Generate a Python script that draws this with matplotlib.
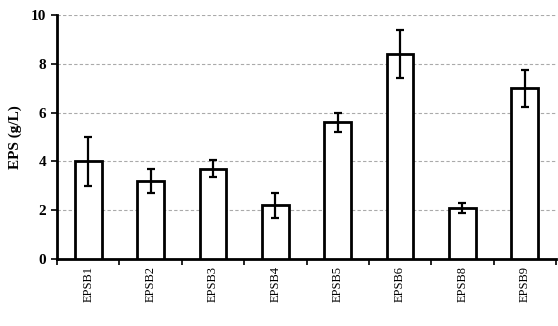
import matplotlib
matplotlib.use("Agg")
import matplotlib.pyplot as plt
import numpy as np

strains = ["EPSB1", "EPSB2", "EPSB3", "EPSB4", "EPSB5", "EPSB6", "EPSB8", "EPSB9"]
eps = [4.0, 3.2, 3.7, 2.2, 5.6, 8.4, 2.1, 7.0]
err = [1.0, 0.5, 0.35, 0.5, 0.4, 1.0, 0.2, 0.76]

plt.rcParams["font.family"] = ["Liberation Serif", "DejaVu Serif"]
plt.rcParams["font.weight"] = "bold"

fig = plt.figure(figsize=(5.58, 3.26), dpi=100)
ax = fig.add_axes([57 / 558, 67 / 326, 499 / 558, 244 / 326])

x = np.arange(len(strains))
ax.bar(x, eps, width=0.43, color="white", edgecolor="black", linewidth=2.0, zorder=3)
ax.errorbar(x, eps, yerr=err, fmt="none", ecolor="black", elinewidth=1.6,
            capsize=3, capthick=1.6, zorder=4)

ax.set_ylim(0, 10)
ax.set_yticks([0, 2, 4, 6, 8, 10])
ax.set_xlim(-0.5, len(strains) - 0.5)
ax.set_xticks(np.arange(-0.5, len(strains), 1.0))
ax.set_xticklabels([])
ax.set_xticks(x, minor=True)
ax.set_xticklabels(strains, minor=True, rotation=90, fontsize=9, fontweight="normal")
ax.tick_params(axis="x", which="minor", length=0, pad=5)
ax.tick_params(axis="x", which="major", length=4, width=1.2, direction="out")
ax.tick_params(axis="y", length=4, width=1.2, direction="out", labelsize=11, pad=4)
for lbl in ax.get_yticklabels():
    lbl.set_fontweight("bold")

ax.yaxis.grid(True, linestyle=(0, (3, 2)), color="#aaaaaa", linewidth=0.8, zorder=0)
ax.set_axisbelow(True)

for s in ["top", "right"]:
    ax.spines[s].set_visible(False)
for s in ["left", "bottom"]:
    ax.spines[s].set_linewidth(2.0)

ax.set_ylabel("EPS (g/L)", fontsize=11, fontweight="bold", labelpad=6)

fig.savefig("out.png", dpi=100, facecolor="white")
